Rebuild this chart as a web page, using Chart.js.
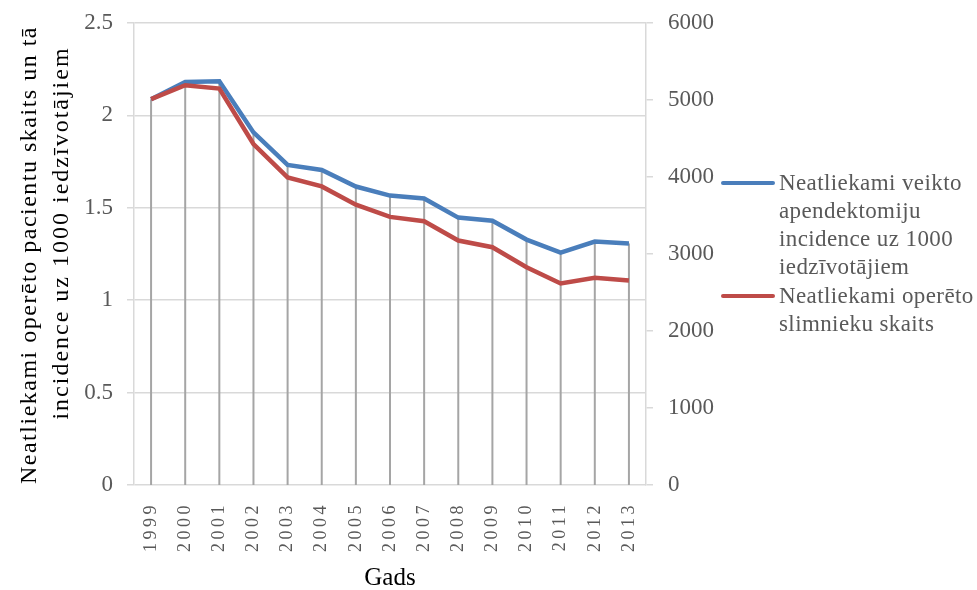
<!DOCTYPE html>
<html>
<head>
<meta charset="utf-8">
<script src="https://cdn.jsdelivr.net/npm/chart.js@4/dist/chart.umd.min.js"></script>
<style>
  html, body { margin: 0; padding: 0; background: #fff; }
  #wrap { position: relative; width: 977px; height: 590px; }
  #legend .item { position: absolute; left: 721px; }
  #legend .swatch { position: absolute; left: 0; width: 54px; height: 4px; border-radius: 2px; }
  #legend .txt { position: absolute; left: 58px; top: 0; font: 23px "Liberation Serif"; line-height: 28px;
                 color: #595959; white-space: nowrap; letter-spacing: 0.4px; }
</style>
</head>
<body>
<div id="wrap">
  <canvas id="c" width="977" height="590"></canvas>
  <div id="legend"></div>
</div>
<script>
// Years on the category axis
const years = ['1999', '2000', '2001', '2002', '2003', '2004', '2005', '2006',
               '2007', '2008', '2009', '2010', '2011', '2012', '2013'];

// Emergency appendectomy incidence per 1000 inhabitants (left axis)
const incidence = [2.088, 2.181, 2.185, 1.908, 1.732, 1.705, 1.615, 1.566,
                   1.550, 1.447, 1.430, 1.328, 1.258, 1.317, 1.307];

// Number of emergency-operated patients (right axis)
const patients = [5011, 5192, 5148, 4428, 3995, 3878, 3641, 3482,
                  3425, 3175, 3088, 2829, 2618, 2691, 2656];

// Legend text, already broken into lines
const incidenceLabel = ['Neatliekami veikto', 'apendektomiju', 'incidence uz 1000', 'iedzīvotājiem'];
const patientsLabel = ['Neatliekami operēto', 'slimnieku skaits'];

// Axis titles
const leftTitle = ['Neatliekami operēto pacientu skaits un tā', 'incidence uz 1000 iedzīvotājiem'];
const bottomTitle = 'Gads';

const GRID = '#d9d9d9';
const TEXT = '#595959';
const SERIF = '"Liberation Serif", "Times New Roman", serif';

// Vertical drop lines from the highest point of each year down to the axis
const dropLines = {
  id: 'dropLines',
  beforeDatasetsDraw(chart) {
    const ctx = chart.ctx;
    const bottom = chart.chartArea.bottom;
    const metas = chart.data.datasets.map((d, i) => chart.getDatasetMeta(i));
    ctx.save();
    ctx.strokeStyle = '#a5a5a5';
    ctx.lineWidth = 2;
    years.forEach((y, i) => {
      const top = Math.min(...metas.map(m => m.data[i].y));
      const x = metas[0].data[i].x;
      ctx.beginPath();
      ctx.moveTo(x, top);
      ctx.lineTo(x, bottom);
      ctx.stroke();
    });
    ctx.restore();
  }
};

// Spaced-out year labels and the two-line left axis title
const axisText = {
  id: 'axisText',
  afterDraw(chart) {
    const ctx = chart.ctx;
    const xs = chart.scales.x;
    const ys = chart.scales.y;
    ctx.save();
    ctx.fillStyle = TEXT;
    ctx.font = '18px ' + SERIF;
    ctx.letterSpacing = '3.5px';
    ctx.textAlign = 'right';
    ctx.textBaseline = 'middle';
    years.forEach((label, i) => {
      ctx.save();
      ctx.translate(xs.getPixelForTick(i), xs.top + 17);
      ctx.rotate(-Math.PI / 2);
      ctx.fillText(label, 0, 0);
      ctx.restore();
    });

    ctx.fillStyle = '#000';
    ctx.font = '24px ' + SERIF;
    ctx.textAlign = 'center';
    const mid = (ys.top + ys.bottom) / 2;
    const shifts = [1, -21];
    const spacing = ['1.5px', '2px'];
    leftTitle.forEach((line, k) => {
      ctx.save();
      ctx.letterSpacing = spacing[k];
      ctx.translate(30 + 32 * k, mid + shifts[k]);
      ctx.rotate(-Math.PI / 2);
      ctx.fillText(line, 0, 0);
      ctx.restore();
    });
    ctx.restore();
  }
};

// Tick labels may overhang the plot edges; the top margin alone sets the plot top
function verticalFit(width) {
  return scale => {
    scale.width = width;
    scale.paddingTop = 0;
    scale.paddingBottom = 0;
  };
}

const chart = new Chart(document.getElementById('c'), {
  type: 'line',
  data: {
    labels: years,
    datasets: [
      {
        label: incidenceLabel.join(' '),
        data: incidence,
        yAxisID: 'y',
        borderColor: '#4a7ebb',
        borderWidth: 4.5,
        pointRadius: 0,
        tension: 0,
        order: 1
      },
      {
        label: patientsLabel.join(' '),
        data: patients,
        yAxisID: 'y1',
        borderColor: '#be4b48',
        borderWidth: 4.5,
        pointRadius: 0,
        tension: 0,
        order: 0
      }
    ]
  },
  plugins: [dropLines, axisText],
  options: {
    responsive: false,
    animation: false,
    layout: { padding: { top: 23, right: 251, bottom: 0, left: 0 } },
    plugins: {
      legend: { display: false },
      tooltip: { enabled: false }
    },
    scales: {
      x: {
        type: 'category',
        offset: true,
        grid: { display: false, drawTicks: false },
        border: { display: false },
        ticks: { display: false },
        title: {
          display: true,
          text: bottomTitle,
          color: '#000',
          font: { family: SERIF, size: 25 },
          padding: { top: 0, bottom: -3 }
        },
        afterFit(scale) { scale.height = 105; }
      },
      y: {
        position: 'left',
        min: 0,
        max: 2.5,
        ticks: {
          stepSize: 0.5,
          color: TEXT,
          font: { family: SERIF, size: 23 },
          padding: 14,
          callback: v => String(v)
        },
        grid: { color: GRID, lineWidth: 1.5, tickLength: 7, tickColor: GRID },
        border: { display: true, color: GRID, width: 1.5 },
        afterFit: verticalFit(134)
      },
      y1: {
        position: 'right',
        min: 0,
        max: 6000,
        ticks: {
          stepSize: 1000,
          color: TEXT,
          font: { family: SERIF, size: 23 },
          padding: 15,
          callback: v => String(v)
        },
        grid: { drawOnChartArea: false, color: GRID, lineWidth: 1.5, tickLength: 7, tickColor: GRID },
        border: { display: true, color: GRID, width: 1.5 },
        afterFit: verticalFit(80)
      }
    }
  }
});

// Legend beside the right axis, built from the chart's datasets
const legendLines = [incidenceLabel, patientsLabel];
const legendTops = [169, 281.5];
const legend = document.getElementById('legend');
chart.data.datasets.forEach((ds, i) => {
  const item = document.createElement('div');
  item.className = 'item';
  item.style.top = legendTops[i] + 'px';
  const sw = document.createElement('div');
  sw.className = 'swatch';
  sw.style.top = '12px';
  sw.style.background = ds.borderColor;
  const txt = document.createElement('div');
  txt.className = 'txt';
  txt.innerHTML = legendLines[i].map(s => s.replace(/&/g, '&amp;').replace(/</g, '&lt;')).join('<br>');
  item.appendChild(sw);
  item.appendChild(txt);
  legend.appendChild(item);
});
</script>
</body>
</html>
